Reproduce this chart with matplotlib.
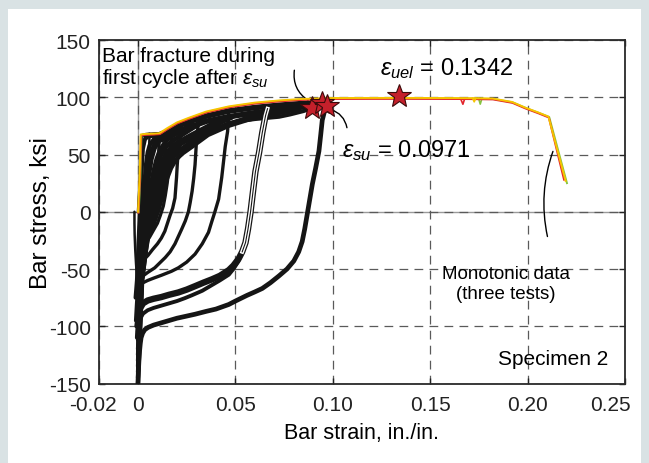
import matplotlib
matplotlib.use("Agg")
import matplotlib.pyplot as plt
from matplotlib.patches import Rectangle
from matplotlib.transforms import ScaledTranslation

plt.rcParams['font.family'] = ['Liberation Sans', 'DejaVu Sans']
plt.rcParams['mathtext.fontset'] = 'custom'
plt.rcParams['mathtext.rm'] = 'Liberation Sans'
plt.rcParams['mathtext.it'] = 'Liberation Sans:italic'

# ---- data (strain in./in., stress ksi) ----
x_ticks = [-0.02, 0, 0.05, 0.10, 0.15, 0.20, 0.25]
x_tick_labels = ['-0.02', '0', '0.05', '0.10', '0.15', '0.20', '0.25']
y_ticks = [-150, -100, -50, 0, 50, 100, 150]
y_tick_labels = ['-150', '-100', '-50', '0', '50', '100', '150']

# monotonic tests
mono_strain = [0.0, 0.0008, 0.0014, 0.004, 0.008, 0.011, 0.015, 0.020, 0.026, 0.035,
               0.0466, 0.060, 0.0724, 0.084, 0.100, 0.120, 0.140, 0.160, 0.170,
               0.182, 0.192, 0.1987, 0.2056, 0.2107]
mono_stress = [0.0, 30.0, 67.5, 68.0, 68.2, 68.6, 73.0, 78.0, 82.0, 87.5,
               92.0, 95.3, 97.2, 98.5, 99.3, 99.4, 99.4, 99.3, 99.2,
               98.9, 95.9, 91.0, 86.6, 83.1]
red_dip = [0.1655, 0.1668, 0.1678]
red_dip_stress = [99.2, 93.9, 99.2]
yel_dip = [0.1718, 0.1726, 0.1734]
yel_dip_stress = [99.2, 96.0, 99.2]
grn_dip = [0.1748, 0.1757, 0.1766]
grn_dip_stress = [99.2, 94.0, 99.2]
red_end = [0.2187, 28.0]
yel_end = [0.2195, 27.0]
grn_end = [0.2202, 25.0]

# cyclic test, black envelope (upper edge of the band) and an inner envelope
env_strain = [0.004, 0.008, 0.011, 0.015, 0.020, 0.026, 0.035, 0.0466, 0.060, 0.0724, 0.084, 0.0955]
env_stress = [66.5, 67.0, 67.2, 70.0, 74.5, 78.5, 83.5, 88.0, 91.0, 93.0, 94.5, 95.3]
env2_strain = [0.012, 0.016, 0.020, 0.026, 0.035, 0.0466, 0.060, 0.0724, 0.084, 0.0935]
env2_stress = [63.0, 66.5, 69.0, 73.5, 79.0, 83.0, 86.5, 89.0, 91.5, 93.0]

# reloading branches (compression tip -> envelope)
reload_curves = [
    ([-0.0012, -0.0005, 0.0, 0.0005, 0.001, 0.0015, 0.002, 0.0025, 0.0035, 0.005, 0.010],
     [-75, -60, -40, -20, 0, 20, 40, 55, 63, 66, 67.5]),
    ([-0.001, -0.0005, 0.0003, 0.001, 0.0018, 0.0025, 0.0032, 0.004, 0.005, 0.006, 0.008, 0.010, 0.016],
     [-95, -80, -60, -40, -20, 0, 20, 40, 52, 58, 63, 66, 70]),
    ([-0.0008, 0.0, 0.0008, 0.002, 0.003, 0.004, 0.005, 0.0065, 0.009, 0.012, 0.019],
     [-100, -88, -50, -20, 0, 20, 38, 52, 61, 65, 71.5]),
    ([-0.0005, 0.0, 0.0005, 0.001, 0.002, 0.003, 0.0037, 0.0045, 0.0055, 0.007, 0.0085, 0.010, 0.0125, 0.015, 0.022],
     [-110, -95, -75, -50, -28, -10, 0, 14, 30, 46, 55, 60, 64, 67, 73]),
    ([0.0, 0.0006, 0.0012, 0.0022, 0.0035, 0.0045, 0.0055, 0.0068, 0.008, 0.0095, 0.011, 0.0135, 0.016, 0.022, 0.028],
     [-105, -85, -60, -35, -15, 0, 12, 25, 36, 46, 53, 60, 64, 71, 77]),
    ([0.0, 0.001, 0.003, 0.0048, 0.006, 0.0075, 0.009, 0.0112, 0.014, 0.018, 0.024, 0.031],
     [-108, -60, -30, -5, 8, 25, 38, 49, 56, 62, 68.5, 76]),
    ([0.0, 0.0006, 0.0012, 0.0025, 0.004, 0.0052, 0.0065, 0.0078, 0.009, 0.0105, 0.0125, 0.015, 0.018, 0.025, 0.033],
     [-112, -90, -60, -35, -15, 0, 10, 22, 33, 43, 52, 58, 62.5, 70, 79]),
    ([0.0, 0.0007, 0.0015, 0.003, 0.0045, 0.006, 0.0075, 0.009, 0.0105, 0.012, 0.014, 0.017, 0.020, 0.027, 0.036, 0.042],
     [-120, -95, -60, -35, -15, 0, 8, 20, 33, 42, 50, 56.5, 60.5, 67, 75, 81]),
    ([0.0, 0.0016, 0.0038, 0.0062, 0.008, 0.0095, 0.011, 0.013, 0.0155, 0.019, 0.025, 0.032, 0.040, 0.048],
     [-125, -60, -28, -5, 7, 20, 33, 43, 51, 57.5, 63.5, 69, 76, 82]),
    ([0.0, 0.0008, 0.0018, 0.0033, 0.005, 0.0068, 0.0085, 0.010, 0.012, 0.014, 0.016, 0.019, 0.022, 0.030, 0.040, 0.050],
     [-130, -100, -60, -35, -15, -2, 8, 20, 31, 41, 47.5, 54, 59, 67, 76, 84]),
    ([0.0, 0.0019, 0.0045, 0.0072, 0.009, 0.0105, 0.0125, 0.0145, 0.017, 0.021, 0.027, 0.035, 0.045, 0.055, 0.062],
     [-135, -60, -25, -5, 6, 18, 30, 40, 47, 53.5, 60, 67, 75, 81, 85]),
    ([0.0, 0.0009, 0.002, 0.0036, 0.0055, 0.0075, 0.0095, 0.011, 0.013, 0.0152, 0.0175, 0.020, 0.024, 0.032, 0.0466, 0.060, 0.068],
     [-140, -105, -60, -35, -15, -3, 5, 16, 29, 40, 46, 52, 57, 67, 77, 84, 88]),
    ([0.0, 0.0021, 0.0048, 0.008, 0.010, 0.012, 0.014, 0.016, 0.019, 0.023, 0.028, 0.036, 0.0466, 0.056, 0.066, 0.075, 0.083],
     [-145, -60, -25, -5, 4, 14, 28, 38, 45, 51, 57, 67, 75, 80, 84, 87, 90]),
    ([0.0, 0.001, 0.0022, 0.004, 0.006, 0.0085, 0.0105, 0.0125, 0.0145, 0.017, 0.019, 0.022, 0.025, 0.033,
      0.040, 0.0466, 0.053, 0.060, 0.066, 0.0724, 0.078, 0.085, 0.090, 0.0935],
     [-150, -110, -60, -35, -15, -3, 2, 13, 27, 38, 44, 50, 56, 67,
      72.5, 77, 79.5, 81, 82, 83, 85, 88, 91, 93]),
]

# unloading branches (envelope peak -> compression)
unload_curves = [
    ([0.0110, 0.0108, 0.0105, 0.010, 0.0095, 0.0088, 0.008, 0.007, 0.006, 0.0045, 0.003, 0.001],
     [67, 58, 45, 32, 20, 10, 3, -4, -12, -19, -24, -30]),
    ([0.0145, 0.0143, 0.014, 0.0135, 0.013, 0.012, 0.011, 0.0095, 0.008, 0.0065, 0.005, 0.0035, 0.002],
     [69, 58, 48, 35, 22, 11, 3, -5, -12, -18, -24, -28, -32]),
    ([0.0175, 0.0171, 0.0165, 0.0158, 0.015, 0.014, 0.013, 0.0115, 0.010, 0.008, 0.006, 0.004, 0.002],
     [71, 60, 50, 37, 25, 14, 5, -3, -10, -16, -22, -27, -32]),
    ([0.0225, 0.0215, 0.0207, 0.0202, 0.0198, 0.019, 0.0178, 0.0165, 0.0138, 0.012, 0.010, 0.0075, 0.0052, 0.0035, 0.002],
     [74, 63, 53, 42, 30, 12, 3, -3, -17, -23, -28, -33, -38, -41, -44]),
    ([0.0315, 0.0308, 0.0302, 0.0298, 0.0293, 0.0286, 0.0278, 0.0268, 0.0259, 0.0243, 0.0225, 0.019,
      0.0165, 0.014, 0.011, 0.0086, 0.005, 0.0026, 0.001],
     [81, 74, 67, 55, 41, 29, 18, 8, 0, -8, -15, -28,
      -35, -40, -45, -49, -53, -56, -60]),
    ([0.0466, 0.0463, 0.046, 0.0448, 0.0438, 0.043, 0.0414, 0.0395, 0.038, 0.0362, 0.033, 0.0293,
      0.025, 0.0207, 0.0172, 0.012, 0.008, 0.005, 0.0026, 0.001],
     [88, 78, 70, 57, 42, 30, 11, 0, -8, -18, -28, -37,
      -44, -49, -52, -55.5, -58, -60, -62, -66]),
]
triple_strain = [0.0665, 0.066, 0.0655, 0.0647, 0.0638, 0.0622, 0.0603, 0.059, 0.0578, 0.0565,
                 0.0552, 0.0535, 0.0517, 0.049, 0.0466, 0.042, 0.038, 0.0335, 0.0293, 0.025,
                 0.0207, 0.016, 0.012, 0.008, 0.005, 0.0026, 0.0012]
triple_stress = [90, 87, 84, 77, 69, 52, 35, 17, 0, -15,
                 -27, -35, -41, -47, -51, -56, -59, -62, -65, -68,
                 -70.5, -72.5, -74.5, -76, -77.5, -80, -84]
second_strain = [0.0517, 0.049, 0.0466, 0.042, 0.038, 0.033, 0.0276, 0.024, 0.020, 0.016, 0.012,
                 0.008, 0.005, 0.0026, 0.001]
second_stress = [-43, -50, -55, -60, -64, -69, -73, -75.5, -78, -80, -82,
                 -84, -86, -89, -94]
last_strain = [0.0965, 0.096, 0.0955, 0.0946, 0.0938, 0.0929, 0.0912, 0.0895, 0.0882, 0.0869,
               0.0856, 0.0843, 0.0825, 0.080, 0.0765, 0.0724, 0.068, 0.0638, 0.060, 0.056,
               0.050, 0.0466, 0.040, 0.035, 0.0293, 0.024, 0.020, 0.016, 0.012, 0.008,
               0.0052, 0.0035, 0.0024, 0.0016, 0.0012, 0.0008, 0.0005, 0.0002, 0.0]
last_stress = [94, 90, 86, 80, 67, 53, 38, 24, 11, -2,
               -15, -26, -35, -43, -50, -56, -62, -67, -70, -73,
               -78, -81, -85, -87, -89.5, -91.5, -93, -95, -97, -99,
               -101, -103, -106, -110, -115, -122, -130, -140, -150]

# first small cycles near zero strain
early_curves = [
    ([0.0, 0.001, 0.0022, 0.006],
     [0, 30, 67, 68]),
    ([0.006, 0.0058, 0.0055, 0.005, 0.0045, 0.0038, 0.003, 0.002, 0.001, 0.0, -0.0005],
     [68, 60, 50, 37, 25, 12, 0, -15, -30, -42, -50]),
    ([-0.0018, -0.0018, -0.0017, -0.0014, -0.001, -0.0005, 0.0],
     [0, -10, -20, -33, -45, -58, -70]),
]

stars_fracture_x = [0.0895, 0.0945, 0.0971]
stars_fracture_y = [90.5, 95.0, 92.5]
star_uel = [0.1342, 101.0]

# ---- figure ----
fig = plt.figure(figsize=(6.49, 4.64), dpi=100)
fig.patch.set_facecolor('#d9e2e4')
fig.patches.append(Rectangle((8 / 649, 0), 633 / 649, 454 / 464, transform=fig.transFigure,
                             facecolor='white', edgecolor='none', zorder=-10))
ax = fig.add_axes([99 / 649, 1 - 384.5 / 464, 526 / 649, 343.5 / 464])
ax.set_xlim(-0.02, 0.25)
ax.set_ylim(-150, 150)

ax.grid(True, ls=(0, (7, 5)), color='#5a5a5a', lw=0.9)
ax.axhline(0, color='#9a9a9a', lw=1.0, zorder=1.5)
ax.axvline(0, color='#9a9a9a', lw=1.0, zorder=1.5)

black = '#151515'
for xs, ys in early_curves:
    ax.plot(xs, ys, color=black, lw=1.8, solid_capstyle='round', zorder=3)
for xs, ys in reload_curves:
    ax.plot(xs, ys, color=black, lw=3.0, solid_capstyle='round', solid_joinstyle='round', zorder=3)
for xs, ys in unload_curves:
    ax.plot(xs, ys, color=black, lw=2.4, solid_capstyle='round', solid_joinstyle='round', zorder=3)
ax.plot(env_strain, env_stress, color=black, lw=4.0, solid_capstyle='round', zorder=3)
ax.plot(env2_strain, env2_stress, color=black, lw=4.0, solid_capstyle='round', zorder=3)
ax.plot(second_strain, second_stress, color=black, lw=2.8, solid_capstyle='round', zorder=3)
ax.plot(triple_strain, triple_stress, color=black, lw=4.6, solid_capstyle='round',
        solid_joinstyle='round', zorder=3)
ax.plot(triple_strain[:12], triple_stress[:12], color='white', lw=2.8, zorder=3)
ax.plot(triple_strain[:12], triple_stress[:12], color=black, lw=0.8, zorder=3)
ax.plot(last_strain, last_stress, color=black, lw=3.4, solid_capstyle='round',
        solid_joinstyle='round', zorder=3)

# monotonic tests: green, red, yellow
for col, dx, dy, dip_x, dip_y, end in [
        ('#86c440', 0.0004, -0.4, grn_dip, grn_dip_stress, grn_end),
        ('#e3262d', 0.0002, -0.8, red_dip, red_dip_stress, red_end),
        ('#f6c400', 0.0, 0.0, yel_dip, yel_dip_stress, yel_end)]:
    xs = [v + dx for v in mono_strain] + [end[0]]
    ys = [v + dy for v in mono_stress] + [end[1]]
    ax.plot(xs, ys, color=col, lw=1.4, zorder=4)
    ax.plot(dip_x, dip_y, color=col, lw=1.2, zorder=4)

star_kw = dict(marker='*', ms=18, color='#c4202b', markeredgecolor='#3b0b0b',
               markeredgewidth=0.8, ls='none', zorder=6)
ax.plot(stars_fracture_x, stars_fracture_y, **star_kw)
ax.plot([star_uel[0]], [star_uel[1]], **star_kw)

# annotations
ax.text(-0.0183, 131.5, 'Bar fracture during', fontsize=15, va='baseline', zorder=7)
ax.text(-0.0183, 112.5, r'first cycle after $\varepsilon_{su}$', fontsize=15, va='baseline', zorder=7)
ax.annotate('', xy=(0.0885, 96), xytext=(0.0805, 126),
            arrowprops=dict(arrowstyle='-', color='k', lw=1.0, connectionstyle='arc3,rad=0.35'))
ax.text(0.1241, 120, r'$\varepsilon_{uel}$ = 0.1342', fontsize=17, va='baseline', zorder=7)
ax.text(0.1046, 48.7, r'$\varepsilon_{su}$ = 0.0971', fontsize=17, va='baseline', zorder=7)
ax.annotate('', xy=(0.1075, 71), xytext=(0.0975, 90),
            arrowprops=dict(arrowstyle='-', color='k', lw=1.0, connectionstyle='arc3,rad=-0.35'))
ax.text(0.1889, -58, 'Monotonic data', fontsize=13.5, ha='center', va='baseline')
ax.text(0.1889, -75, '(three tests)', fontsize=13.5, ha='center', va='baseline')
ax.annotate('', xy=(0.2105, -24), xytext=(0.2135, 55),
            arrowprops=dict(arrowstyle='-', color='k', lw=1.0, connectionstyle='arc3,rad=0.15'))
ax.text(0.2415, -133, 'Specimen 2', fontsize=15, ha='right', va='baseline')

ax.set_xticks(x_ticks)
ax.set_xticklabels(x_tick_labels)
ax.set_yticks(y_ticks)
ax.set_yticklabels(y_tick_labels)
ax.tick_params(direction='in', length=4, width=1, top=True, right=True, labelsize=15, colors='#222')
ax.tick_params(axis='x', pad=8)
ax.tick_params(axis='y', pad=6)
# end labels sit a little to the left in the reference
xl = ax.get_xticklabels()
xl[0].set_transform(xl[0].get_transform() + ScaledTranslation(-0.06, 0, fig.dpi_scale_trans))
xl[-1].set_transform(xl[-1].get_transform() + ScaledTranslation(-0.15, 0, fig.dpi_scale_trans))
for s in ax.spines.values():
    s.set_color('#2a2a2a')
    s.set_linewidth(1.3)
ax.set_xlabel('Bar strain, in./in.', fontsize=15.5, labelpad=6)
ax.set_ylabel('Bar stress, ksi', fontsize=17.5)
ax.yaxis.set_label_coords(-0.09, 0.5)

fig.savefig('out.png', dpi=100, facecolor=fig.get_facecolor())
